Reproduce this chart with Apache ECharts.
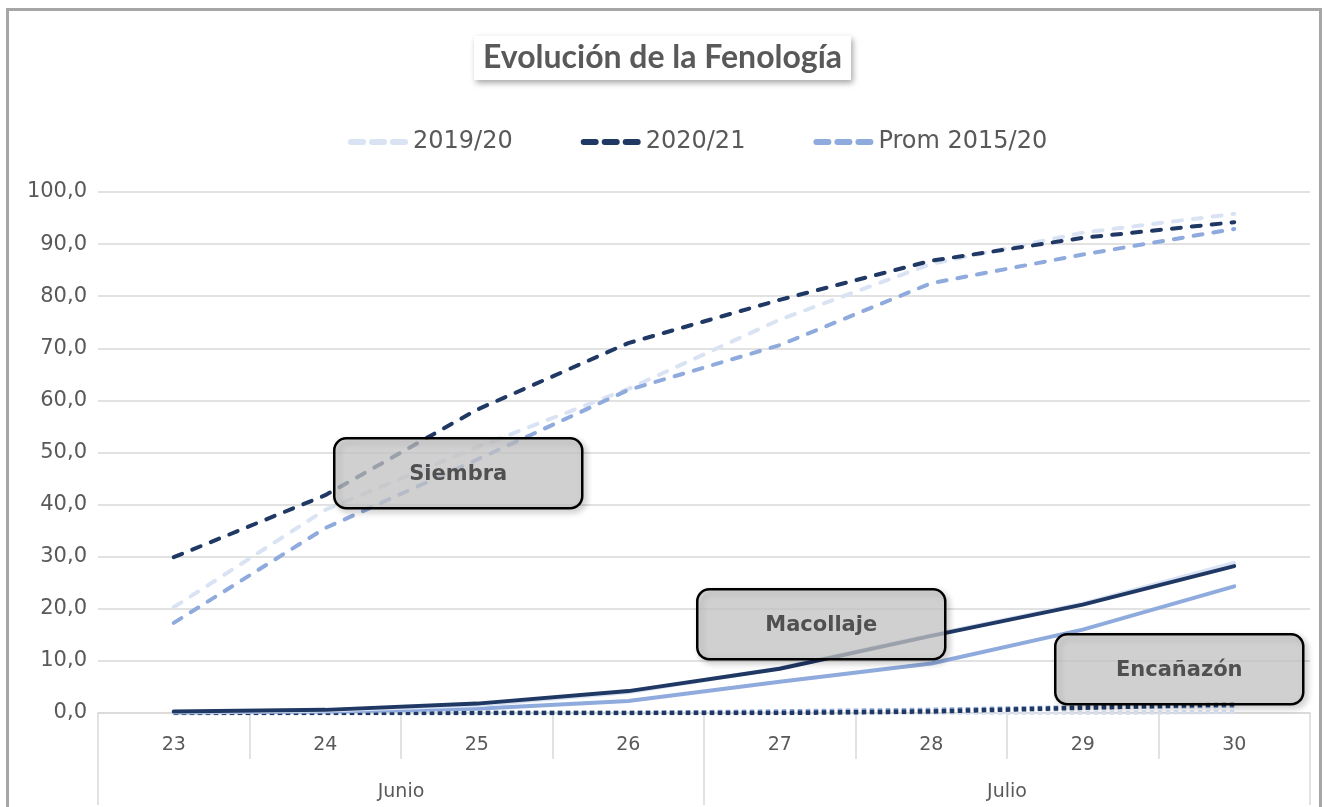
<!DOCTYPE html>
<html>
<head>
<meta charset="utf-8">
<script src="https://cdn.jsdelivr.net/npm/echarts@6/dist/echarts.min.js"></script>
<style>
html,body{margin:0;padding:0;background:#fff;}
#c{width:1325px;height:807px;}
</style>
</head>
<body>
<div id="c"></div>
<script>
const days = ['23','24','25','26','27','28','29','30'];
const months = ['Junio','Julio'];
const yTicks = [0,10,20,30,40,50,60,70,80,90,100];
const seriesNames = ['2019/20','2020/21','Prom 2015/20'];

const siembra1920 = [20.3, 39.0, 51.0, 62.2, 75.5, 86.2, 92.2, 95.8];
const siembra2021 = [29.9, 41.8, 58.2, 71.0, 79.3, 86.8, 91.2, 94.2];
const siembraProm = [17.3, 35.5, 48.6, 62.0, 70.6, 82.5, 88.0, 92.9];

const macollaje1920 = [0.2, 0.5, 1.5, 4.0, 8.6, 15.0, 21.0, 28.8];
const macollaje2021 = [0.3, 0.6, 1.8, 4.2, 8.5, 14.8, 20.8, 28.2];
const macollajeProm = [0.1, 0.3, 0.8, 2.3, 6.0, 9.5, 16.0, 24.3];

const encanazon1920 = [0, 0, 0, 0, 0, 0, 0, 0.2];
const encanazon2021 = [0, 0, 0, 0, 0, 0.3, 1.0, 1.7];
const encanazonProm = [0, 0, 0, 0, 0.3, 0.6, 1.1, 1.4];

const colors = ['#dae3f3', '#203864', '#8faadc'];
const AXF = '"DejaVu Sans", sans-serif';
const TF = 'Lato, "Open Sans", sans-serif';
const TXT = '#595959';

function line(name, data, color, kind) {
  const ls = {color: color, width: 4};
  if (kind === 'dash') { ls.type = [9, 11]; ls.cap = 'round'; }
  else if (kind === 'dot') { ls.type = [4.5, 3.5]; ls.width = 4.5; ls.cap = 'butt'; }
  else { ls.type = 'solid'; ls.cap = 'round'; }
  return {
    name: name, type: 'line', data: data, xAxisIndex: 0, yAxisIndex: 0,
    showSymbol: false, symbol: 'none', lineStyle: ls, itemStyle: {color: color},
    animation: false, z: 2
  };
}

const series = [
  line(seriesNames[0], siembra1920, colors[0], 'dash'),
  line(seriesNames[1], siembra2021, colors[1], 'dash'),
  line(seriesNames[2], siembraProm, colors[2], 'dash'),
  line('Encañazón ' + seriesNames[0], encanazon1920, colors[0], 'dot'),
  line('Encañazón ' + seriesNames[2], encanazonProm, colors[2], 'dot'),
  line('Encañazón ' + seriesNames[1], encanazon2021, colors[1], 'dot'),
  line('Macollaje ' + seriesNames[2], macollajeProm, colors[2], 'solid'),
  line('Macollaje ' + seriesNames[0], macollaje1920, colors[0], 'solid'),
  line('Macollaje ' + seriesNames[1], macollaje2021, colors[1], 'solid')
];

function box(x, y, text) {
  return {
    type: 'group', left: x, top: y, z: 100,
    children: [
      {type: 'rect', z: 100, shape: {x: 0, y: 0, width: 248, height: 70, r: 12},
       style: {fill: 'rgba(205,205,205,0.72)', stroke: '#000', lineWidth: 2.5,
               shadowBlur: 6, shadowOffsetX: 3, shadowOffsetY: 3, shadowColor: 'rgba(0,0,0,0.22)'}},
      {type: 'text', z: 101, x: 124, y: 36,
       style: {text: text, fill: '#505050', font: 'bold 21px ' + AXF, textAlign: 'center', textVerticalAlign: 'middle'}}
    ]
  };
}

const dashIcon = 'path://M3,0h12a3,3 0 0 1 0,6h-12a3,3 0 0 1 0,-6z M24,0h12a3,3 0 0 1 0,6h-12a3,3 0 0 1 0,-6z M45,0h12a3,3 0 0 1 0,6h-12a3,3 0 0 1 0,-6z';

const chart = echarts.init(document.getElementById('c'), null, {renderer: 'canvas'});
chart.setOption({
  animation: false,
  backgroundColor: '#fff',
  title: {
    text: 'Evolución de la Fenología', left: 'center', top: 36,
    padding: [6, 9, 6, 9], backgroundColor: '#fff',
    shadowBlur: 6, shadowOffsetX: 2, shadowOffsetY: 3, shadowColor: 'rgba(0,0,0,0.35)',
    textStyle: {fontFamily: TF, fontSize: 32, fontWeight: 'bold', color: TXT}
  },
  legend: {
    data: seriesNames.map(n => ({name: n, icon: dashIcon})),
    top: 125, left: 343,
    itemWidth: 60, itemHeight: 6, itemGap: 68,
    textStyle: {fontFamily: AXF, fontSize: 24, color: TXT}
  },
  grid: {left: 98, right: 15, top: 192, bottom: 94, containLabel: false},
  xAxis: [
    {type: 'category', data: days, position: 'bottom', boundaryGap: true,
     axisLine: {show: true, lineStyle: {color: '#d9d9d9', width: 1.5}},
     axisTick: {show: true, interval: 0, length: 46, lineStyle: {color: '#d9d9d9', width: 1.5}},
     axisLabel: {margin: 23, fontFamily: AXF, fontSize: 19, color: TXT},
     splitLine: {show: false}},
    {type: 'category', data: months, position: 'bottom', boundaryGap: true,
     axisLine: {show: false},
     axisTick: {show: true, interval: 0, length: 92, lineStyle: {color: '#d9d9d9', width: 1.5}},
     axisLabel: {margin: 70, fontFamily: AXF, fontSize: 19, color: TXT},
     splitLine: {show: false}}
  ],
  yAxis: {
    type: 'value', min: yTicks[0], max: yTicks[yTicks.length - 1], interval: 10,
    axisLine: {show: false}, axisTick: {show: false},
    axisLabel: {margin: 11, fontFamily: AXF, fontSize: 21, color: TXT,
      formatter: v => v.toFixed(1).replace('.', ',')},
    splitLine: {lineStyle: {color: '#d9d9d9', width: 1.5}}
  },
  series: series,
  graphic: [
    {type: 'rect', shape: {x: 7.5, y: 9.5, width: 1313, height: 820}, z: 0,
     style: {fill: 'none', stroke: '#a6a6a6', lineWidth: 3}, silent: true},
    box(333, 437, 'Siembra'),
    box(696, 588, 'Macollaje'),
    box(1054, 633, 'Encañazón')
  ]
});
</script>
</body>
</html>
